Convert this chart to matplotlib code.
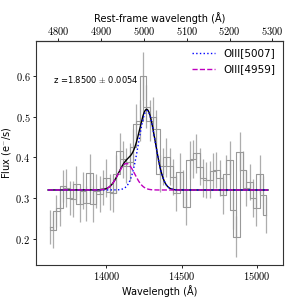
import numpy as np
import matplotlib
matplotlib.use("Agg")
import matplotlib.pyplot as plt
from matplotlib.ticker import FuncFormatter, FixedLocator

plt.rcParams['mathtext.fontset'] = 'cm'
plt.rcParams['font.family'] = ['DejaVu Sans']

# ---- data ----
wave_start = 13622.0
wave_step = 22.2
flux = [0.230, 0.222, 0.268, 0.275, 0.330, 0.325, 0.300, 0.298, 0.335, 0.285,
        0.318, 0.287, 0.362, 0.285, 0.318, 0.310, 0.325, 0.350, 0.315, 0.312,
        0.360, 0.415, 0.395, 0.380, 0.388, 0.425, 0.482, 0.490, 0.600, 0.525,
        0.490, 0.500, 0.470, 0.360, 0.378, 0.400, 0.378, 0.352, 0.313, 0.364,
        0.323, 0.279, 0.394, 0.396, 0.410, 0.377, 0.350, 0.345, 0.345, 0.366,
        0.369, 0.350, 0.308, 0.360, 0.394, 0.271, 0.205, 0.414, 0.369, 0.325,
        0.340, 0.300, 0.276, 0.360, 0.308, 0.259]
err = [0.042, 0.045, 0.040, 0.044, 0.040, 0.046, 0.042, 0.045, 0.044, 0.043,
       0.045, 0.042, 0.046, 0.044, 0.042, 0.045, 0.043, 0.046, 0.044, 0.045,
       0.047, 0.045, 0.046, 0.044, 0.047, 0.046, 0.048, 0.050, 0.060, 0.052,
       0.050, 0.048, 0.047, 0.046, 0.045, 0.047, 0.046, 0.045, 0.044, 0.046,
       0.045, 0.044, 0.047, 0.046, 0.048, 0.045, 0.046, 0.044, 0.045, 0.046,
       0.045, 0.044, 0.046, 0.045, 0.047, 0.046, 0.050, 0.048, 0.046, 0.045,
       0.044, 0.046, 0.045, 0.047, 0.046, 0.045]

# fit parameters
z = 1.85
z_err = 0.0054
continuum = 0.32
amp_5007 = 0.195
amp_4959 = amp_5007 / 3.0
sigma = 55.0
rest_5007 = 5007.0
rest_4959 = 4959.0

rest_ticks = [4800, 4900, 5000, 5100, 5200, 5300]

wave = wave_start + wave_step * np.arange(len(flux))
flux = np.array(flux)
err = np.array(err)

fig = plt.figure(figsize=(2.99, 2.99), dpi=100)
ax = fig.add_axes([0.120, 0.114, 0.826, 0.749])

# spectrum
ax.step(wave, flux, where='pre', color='0.6', lw=0.8, zorder=2)
ax.step(wave, flux, where='post', color='0.6', lw=0.8, zorder=2)
ax.errorbar(wave, flux, yerr=err, fmt='none', ecolor='0.68', elinewidth=0.9, zorder=1)

# model
xm = np.linspace(wave[0] - wave_step / 2, wave[-1] + wave_step / 2, 800)
g5007 = amp_5007 * np.exp(-0.5 * ((xm - rest_5007 * (1 + z)) / sigma) ** 2)
g4959 = amp_4959 * np.exp(-0.5 * ((xm - rest_4959 * (1 + z)) / sigma) ** 2)
ax.plot(xm, continuum + g5007 + g4959, color='k', lw=1.0, zorder=3)
ax.plot(xm, continuum + g5007, color='b', ls=':', lw=1.0, zorder=4, label='OIII[5007]')
ax.plot(xm, continuum + g4959, color='m', ls='--', lw=1.0, zorder=5, label='OIII[4959]')

ax.set_xlim(13530, 15175)
ax.set_ylim(0.136, 0.686)
ax.xaxis.set_major_locator(FixedLocator([14000, 14500, 15000]))
ax.yaxis.set_major_locator(FixedLocator([0.2, 0.3, 0.4, 0.5, 0.6]))
ax.xaxis.set_major_formatter(FuncFormatter(lambda v, p: r'$%d$' % v))
ax.yaxis.set_major_formatter(FuncFormatter(lambda v, p: r'$%.1f$' % v))
ax.tick_params(labelsize=7.5, length=2, width=0.6, direction='out', pad=2)
for s in ax.spines.values():
    s.set_linewidth(0.8)
    s.set_color('0.2')

ax.set_xlabel('Wavelength (Å)', fontsize=7, labelpad=2)
ax.set_ylabel('Flux (e$^{-}$/s)', fontsize=7, labelpad=2)

ax.text(0.07, 0.83, r'z =%.4f $\pm$ %.4f' % (z, z_err), transform=ax.transAxes,
        fontsize=6, va='center', ha='left')

leg = ax.legend(loc='upper right', frameon=False, fontsize=7.5, handlelength=2.2,
                borderaxespad=0.3, labelspacing=0.6)

sec = ax.secondary_xaxis('top', functions=(lambda x: x / (1 + z), lambda x: x * (1 + z)))
sec.xaxis.set_major_locator(FixedLocator(rest_ticks))
sec.xaxis.set_major_formatter(FuncFormatter(lambda v, p: r'$%d$' % v))
sec.tick_params(labelsize=7.5, length=2, width=0.6, direction='out', pad=1)
sec.set_xlabel('Rest-frame wavelength (Å)', fontsize=7, labelpad=2)

fig.savefig('out.png', dpi=100)
